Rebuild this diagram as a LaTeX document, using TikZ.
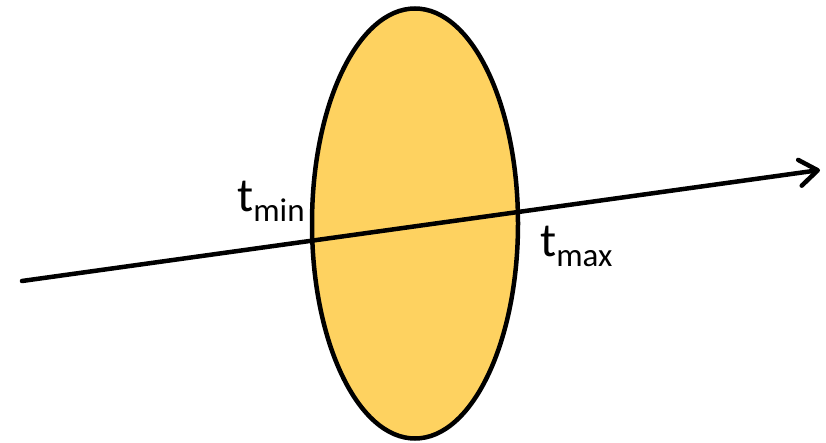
\documentclass[tikz,border=0pt]{standalone}
\usepackage{fontspec}
\setmainfont{Carlito}
\usepackage{tikz}
\usetikzlibrary{shapes.geometric,arrows.meta}
\definecolor{lensfill}{RGB}{254, 210, 96}

\begin{document}
\begin{tikzpicture}[x=1pt, y=-1pt, line width=4.5pt,
  >={Straight Barb[length=18pt, width=26pt, line cap=round, line join=round]},
  label/.style={anchor=base west, inner sep=0pt, font=\fontsize{48}{48}\selectfont}]
\useasboundingbox (0,0) rectangle (826,443);
\node[draw, ellipse, fill=lensfill, minimum width=206pt, minimum height=430pt, inner sep=0pt](volume) at (415,223.5){};
\coordinate (origin) at (22,281);
\coordinate (dir) at (820,170);
\draw[->, line cap=round](origin)--(dir);
\node[label](tmin) at (235,212){t\raisebox{-10pt}{\fontsize{33}{33}\selectfont min}};
\node[label](tmax) at (538,257){t\raisebox{-10pt}{\fontsize{33}{33}\selectfont max}};
\end{tikzpicture}
\end{document}
